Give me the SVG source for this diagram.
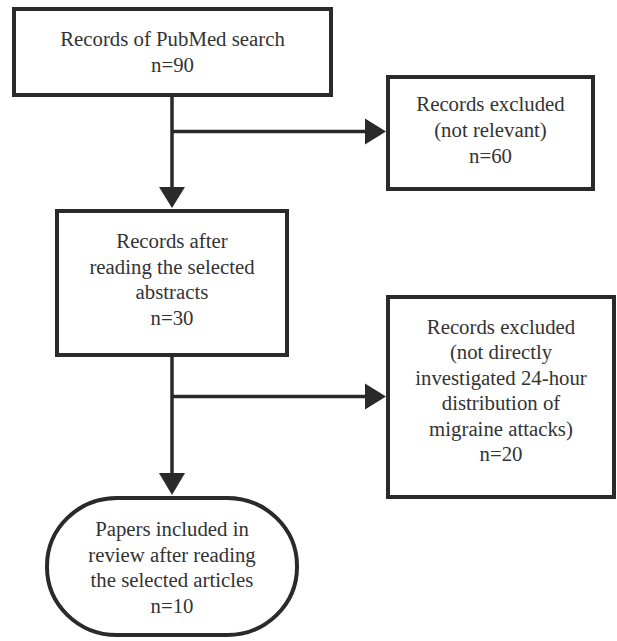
<svg xmlns="http://www.w3.org/2000/svg" width="617" height="641" viewBox="0 0 617 641">
<style>
.box{fill:#fff;stroke:#2b2a2a;stroke-width:4}
.ln{fill:none;stroke:#2b2a2a;stroke-width:3.5}
.ah{fill:#2b2a2a}
</style>
<rect width="617" height="641" fill="#fff"/>
<g id="connectors">
<line class="ln" x1="172" y1="97" x2="172" y2="190"/>
<polygon class="ah" points="159,187 185,187 172,208"/>
<line class="ln" x1="172" y1="131.5" x2="367" y2="131.5"/>
<polygon class="ah" points="365,118.5 365,144.5 386,131.5"/>
<line class="ln" x1="172" y1="357" x2="172" y2="476"/>
<polygon class="ah" points="159,473 185,473 172,495"/>
<line class="ln" x1="172" y1="396.5" x2="367" y2="396.5"/>
<polygon class="ah" points="365,383.5 365,409.5 386,396.5"/>
</g>
<g font-family="Liberation Serif, serif" font-size="20.8" fill="#333" text-anchor="middle">
<g id="node1">
<rect class="box" x="14" y="9" width="317" height="86"/>
<text x="172.5" y="46">Records of PubMed search</text>
<text x="172.5" y="71.5">n=90</text>
</g>
<g id="node2">
<rect class="box" x="388" y="77" width="205" height="112"/>
<text x="490.5" y="111">Records excluded</text>
<text x="490.5" y="137">(not relevant)</text>
<text x="490.5" y="163">n=60</text>
</g>
<g id="node3">
<rect class="box" x="57" y="211" width="230" height="144"/>
<text x="172" y="248">Records after</text>
<text x="172" y="274">reading the selected</text>
<text x="172" y="299">abstracts</text>
<text x="172" y="325">n=30</text>
</g>
<g id="node4">
<rect class="box" x="388" y="297" width="226" height="200"/>
<text x="501" y="334">Records excluded</text>
<text x="501" y="359">(not directly</text>
<text x="501" y="385">investigated 24-hour</text>
<text x="501" y="410">distribution of</text>
<text x="501" y="436">migraine attacks)</text>
<text x="501" y="461">n=20</text>
</g>
<g id="node5">
<rect class="box" x="47" y="498" width="250" height="137" rx="70" ry="68"/>
<text x="172" y="536">Papers included in</text>
<text x="172" y="562">review after reading</text>
<text x="172" y="587">the selected articles</text>
<text x="172" y="613">n=10</text>
</g>
</g>
</svg>
